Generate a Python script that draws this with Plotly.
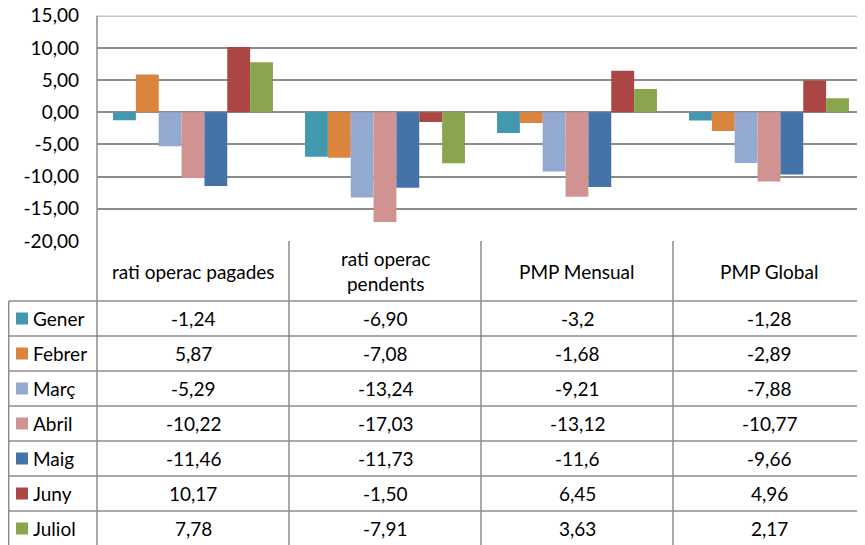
import plotly.graph_objects as go

categories = ["rati operac pagades", "rati operac pendents", "PMP Mensual", "PMP Global"]
header_labels = ["rati operac pagades", "rati operac<br>pendents", "PMP Mensual", "PMP Global"]
months = ["Gener", "Febrer", "Març", "Abril", "Maig", "Juny", "Juliol"]

gener = ["-1,24", "-6,90", "-3,2", "-1,28"]
febrer = ["5,87", "-7,08", "-1,68", "-2,89"]
marc = ["-5,29", "-13,24", "-9,21", "-7,88"]
abril = ["-10,22", "-17,03", "-13,12", "-10,77"]
maig = ["-11,46", "-11,73", "-11,6", "-9,66"]
juny = ["10,17", "-1,50", "6,45", "4,96"]
juliol = ["7,78", "-7,91", "3,63", "2,17"]
series_text = [gener, febrer, marc, abril, maig, juny, juliol]

colors = ["#4198AF", "#DB843D", "#93A9CF", "#D19392", "#4572A7", "#AA4643", "#89A54E"]

tick_vals = [15, 10, 5, 0, -5, -10, -15, -20]
tick_text = ["15,00", "10,00", "5,00", "0,00", "-5,00", "-10,00", "-15,00", "-20,00"]
y_min, y_max = -20, 15

# the page body has an 8px margin; the figure is sized to fill the rest of the window
OFF = 8
W, H = 865 - OFF, 545 - OFF
FONT = "Lato"
FS = 19
LINE = "#8c8c8c"


def px(x):
    return (x - OFF) / W


def py(y):
    return 1 - (y - OFF) / H


fig = go.Figure()
for name, txt, col in zip(months, series_text, colors):
    vals = [float(s.replace(",", ".")) for s in txt]
    fig.add_trace(go.Bar(name=name, x=categories, y=vals, marker=dict(color=col, line=dict(width=0))))

plot_left, plot_top, plot_bottom = 97, 15.8, 241
header_bottom = 301
row_h = 35
n_rows = len(months)
row_lines = [header_bottom + i * row_h for i in range(n_rows + 1)]
table_left = 8.7
col_bounds = [97, 289, 481, 673, 865]

shapes = []
# top border of the plot area (gridline at the axis maximum)
shapes.append(dict(type="line", xref="paper", yref="y", x0=px(plot_left), x1=1,
                   y0=y_max, y1=y_max, line=dict(color=LINE, width=1.5)))
for i, y in enumerate(row_lines):
    shapes.append(dict(type="line", xref="paper", yref="paper", x0=px(table_left), x1=1,
                       y0=py(y), y1=py(y), line=dict(color=LINE, width=1.5)))
for xb in col_bounds[1:-1]:
    shapes.append(dict(type="line", xref="paper", yref="paper", x0=px(xb), x1=px(xb),
                       y0=py(plot_bottom), y1=py(row_lines[-1]), line=dict(color=LINE, width=1.5)))
shapes.append(dict(type="line", xref="paper", yref="paper", x0=px(table_left), x1=px(table_left),
                   y0=py(header_bottom), y1=py(row_lines[-1]), line=dict(color=LINE, width=1.5)))
shapes.append(dict(type="line", xref="paper", yref="paper", x0=px(plot_left), x1=px(plot_left),
                   y0=py(plot_top), y1=py(row_lines[-1]), line=dict(color=LINE, width=1.5)))

annotations = []
for cat, lab in zip(categories, header_labels):
    annotations.append(dict(x=cat, xref="x", y=py((plot_bottom + header_bottom) / 2), yref="paper",
                            text=lab, showarrow=False, xanchor="center", yanchor="middle",
                            font=dict(family=FONT, size=FS, color="#000000")))
for i, (name, txt, col) in enumerate(zip(months, series_text, colors)):
    yc = row_lines[i] + row_h / 2
    shapes.append(dict(type="rect", xref="paper", yref="paper", x0=px(16), x1=px(28),
                       y0=py(yc - 6), y1=py(yc + 6), fillcolor=col, line=dict(width=0)))
    annotations.append(dict(x=px(31), xref="paper", y=py(yc), yref="paper", text=name,
                            showarrow=False, xanchor="left", yanchor="middle",
                            font=dict(family=FONT, size=FS, color="#000000")))
    for cat, t in zip(categories, txt):
        annotations.append(dict(x=cat, xref="x", y=py(yc), yref="paper", text=t,
                                showarrow=False, xanchor="center", yanchor="middle",
                                font=dict(family=FONT, size=FS, color="#000000")))

fig.update_layout(
    width=W, height=H,
    margin=dict(l=0, r=0, t=0, b=0, autoexpand=False),
    paper_bgcolor="white", plot_bgcolor="white",
    barmode="group", bargap=0.167, bargroupgap=0,
    showlegend=False,
    font=dict(family=FONT, size=FS, color="#000000"),
    xaxis=dict(domain=[px(plot_left), 1], showticklabels=False, showgrid=False,
               zeroline=False, showline=False, ticks="", automargin=False),
    yaxis=dict(domain=[py(plot_bottom), py(plot_top)], range=[y_min, y_max],
               tickvals=tick_vals, ticktext=tick_text, showgrid=True, gridcolor=LINE,
               gridwidth=1.5, zeroline=False, showline=False, ticks="", automargin=False,
               ticklabeloverflow="allow",
               ticklabelstandoff=17, tickfont=dict(family=FONT, size=FS, color="#000000")),
    shapes=shapes,
    annotations=annotations,
)

fig.write_html("out.html")
